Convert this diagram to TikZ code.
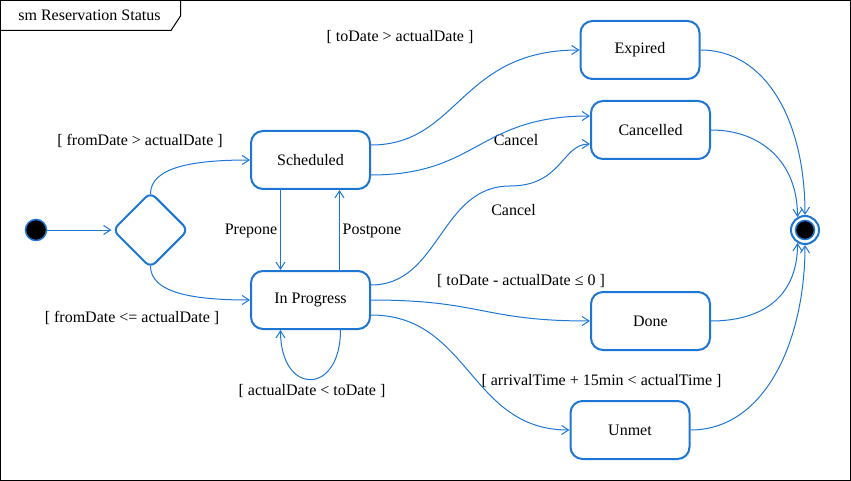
\documentclass[tikz,border=0pt]{standalone}
\usepackage{fontspec}
\setmainfont{Liberation Serif}
\usetikzlibrary{shapes.geometric,arrows.meta}
\definecolor{umlblue}{RGB}{30,118,212}
\tikzset{
  statebox/.style={draw=umlblue,line width=2pt,rounded corners=12pt,minimum width=119pt,minimum height=58pt,inner sep=0pt},
  decision/.style={diamond,draw=umlblue,line width=2pt,rounded corners=7pt,minimum width=76pt,minimum height=76pt,inner sep=0pt},
  flow/.style={draw=umlblue,line width=1pt,-{Straight Barb[length=7pt,width=9pt]}},
  guard/.style={inner sep=0pt},
}
\begin{document}
\begin{tikzpicture}[x=1pt,y=-1pt,font=\fontsize{16}{19}\selectfont]
            \useasboundingbox (0,0) rectangle (851,481);
            \draw[line width=1pt] (0.5,0.5) rectangle (850.5,480.5);
            \draw[line width=1pt] (0.5,30.5) -- (171,30.5) -- (180.5,16) -- (180.5,0.5);
            \node[guard] (title) at (89.5,15) {sm Reservation Status};

            \node[circle,fill=black,draw=umlblue,line width=1.5pt,minimum size=21pt,inner sep=0pt] (init) at (36,230) {};
            \node[decision] (dec) at (150.5,230) {};
            \node[statebox] (sched) at (310.5,160) {Scheduled};
            \node[statebox] (prog) at (310.5,300) {In Progress};
            \node[statebox] (exp) at (640,50) {Expired};
            \node[statebox] (canc) at (650.5,130) {Cancelled};
            \node[statebox] (done) at (650.5,321) {Done};
            \node[statebox] (unmet) at (630,430) {Unmet};
            \node[circle,draw=umlblue,line width=2pt,minimum size=28pt,inner sep=0pt] (final) at (805,230) {};
            \node[circle,fill=black,draw=umlblue,line width=1.5pt,minimum size=19pt,inner sep=0pt] (finaldot) at (final) {};
            \coordinate (cmid) at (510,186);

            \node[guard] (g1) at (140,141) {[ fromDate > actualDate ]};
            \node[guard] (g2) at (132,318) {[ fromDate <= actualDate ]};
            \node[guard] (g3) at (251,231) {Prepone};
            \node[guard] (g4) at (372,231) {Postpone};
            \node[guard] (g5) at (312,391) {[ actualDate < toDate ]};
            \node[guard] (g6) at (400,37) {[ toDate > actualDate ]};
            \node[guard] (g7) at (516,140) {Cancel};
            \node[guard] (g8) at (513.5,210) {Cancel};
            \node[guard] (g9) at (521,281) {[ toDate - actualDate ≤ 0 ]};
            \node[guard] (g10) at (601.5,381) {[ arrivalTime + 15min < actualTime ]};

            \draw[flow] (init) -- (dec.west);
            \draw[flow] ([yshift=-3pt]dec.north) .. controls +(0,-26) and +(-60,0) .. (sched.west);
            \draw[flow] ([yshift=3pt]dec.south) .. controls +(0,26) and +(-60,0) .. (prog.west);
            \draw[flow] ([xshift=-30pt]sched.south) -- ([xshift=-30pt]prog.north);
            \draw[flow] ([xshift=29pt]prog.north) -- ([xshift=29pt]sched.south);
            \draw[flow] ([xshift=30pt]prog.south) .. controls +(0,66) and +(0,66) .. ([xshift=-30pt]prog.south);

            \draw[flow] ([yshift=15pt]sched.east) .. controls +(88,0) and +(-120,0) .. (exp.west);
            \draw[flow] ([yshift=-15pt]sched.east) .. controls +(107,0) and +(-112,0) .. ([yshift=14pt]canc.west);
            \draw[flow] ([yshift=15pt]prog.east) .. controls +(69,0) and +(-70,0) .. (cmid) .. controls +(52,0) and +(-28,0) .. ([yshift=-14pt]canc.west);
            \draw[flow] (prog.east) .. controls +(111,0) and +(-108,0) .. (done.west);
            \draw[flow] ([yshift=-15pt]prog.east) .. controls +(99,0) and +(-100,0) .. (unmet.west);

            \draw[flow] (exp.east) .. controls +(65,0) and +(0,-95) .. (final.north);
            \draw[flow] (canc.east) .. controls +(50,0) and +(0,-55) .. (final.120);
            \draw[flow] (done.east) .. controls +(50,0) and +(0,55) .. (final.240);
            \draw[flow] (unmet.east) .. controls +(75,0) and +(0,95) .. (final.south);
        \end{tikzpicture}
\end{document}
